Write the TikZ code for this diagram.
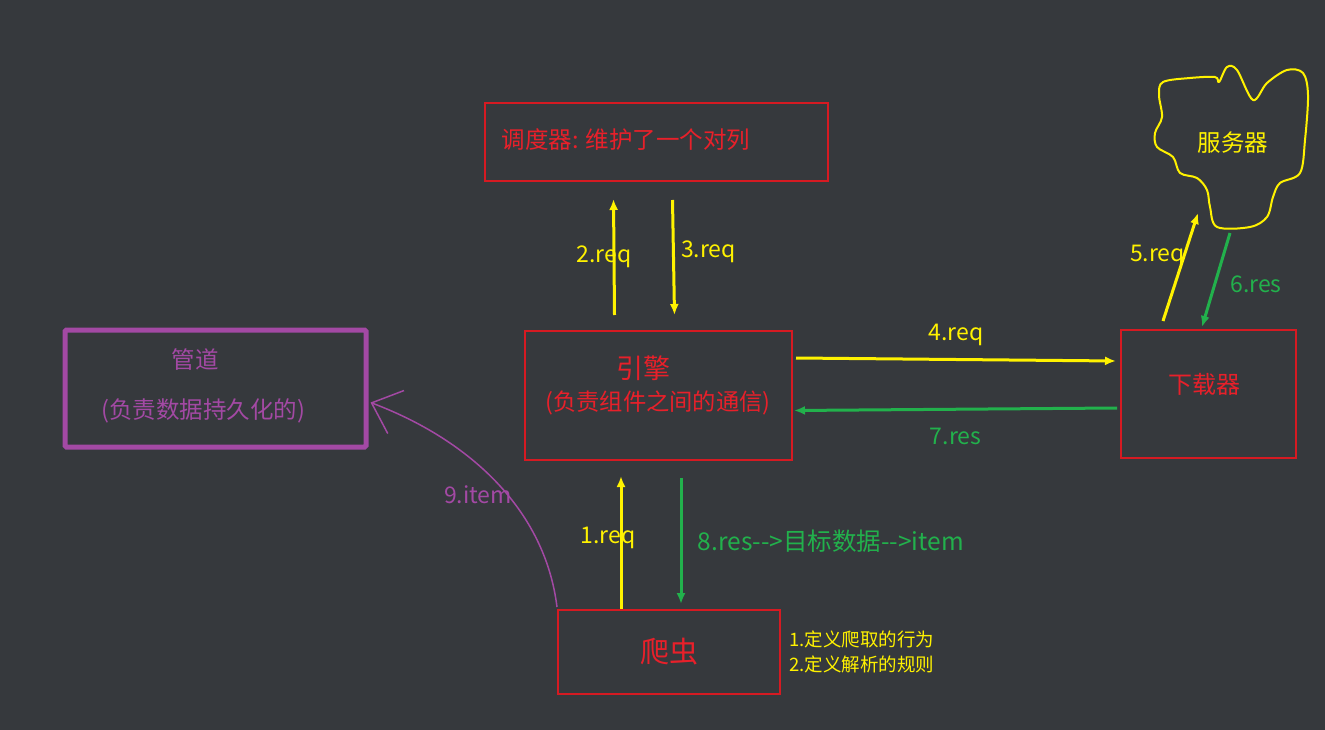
\documentclass[tikz,border=0pt]{standalone}
\usepackage{fontspec}
\newfontfamily\cjk{Noto Sans CJK SC}
\usepackage{tikz}
\usetikzlibrary{arrows.meta,
                positioning}
\definecolor{bgdark}{RGB}{54,57,61}
\definecolor{boxred}{RGB}{214,26,34}
\definecolor{txtred}{RGB}{232,32,42}
\definecolor{arryellow}{RGB}{255,242,0}
\definecolor{arrgreen}{RGB}{34,177,76}
\definecolor{pipepurple}{RGB}{163,73,164}
\tikzset{block/.style=
   {rectangle,
    draw=boxred,
    line width=2pt,
    inner sep=0pt,
    text=txtred,
    font=\cjk\fontsize{24}{28}\selectfont}}
\tikzset{yarrow/.style = {draw=arryellow, line width=3pt, -{Latex[length=11pt,width=9pt]}}}
\tikzset{garrow/.style = {draw=arrgreen, line width=3pt, -{Latex[length=11pt,width=9pt]}}}
\tikzset{ylabel/.style = {text=arryellow, font=\cjk\fontsize{23}{27}\selectfont}}
\tikzset{glabel/.style = {text=arrgreen, font=\cjk\fontsize{23}{27}\selectfont}}

\begin{document}
\begin{tikzpicture}[x=1pt, y=-1pt]

    \fill [bgdark] (0,0) rectangle (1325,730);
    \useasboundingbox (0,0) rectangle (1325,730);

    % Blocks
    \node [block, minimum width=343pt, minimum height=78pt] (sched) at (656.5,142) {};
    \node [block, minimum width=267pt, minimum height=129pt] (engine) at (658.5,395.5) {};
    \node [block, minimum width=175pt, minimum height=128pt] (down) at (1208.5,394) {};
    \node [text=txtred, font=\cjk\fontsize{24}{28}\selectfont] (downtxt) at (1204,384) {下载器};
    \node [block, minimum width=222pt, minimum height=84pt,
           font=\cjk\fontsize{29}{33}\selectfont] (spider) at (669,652) {爬虫};
    \node [block, draw=pipepurple, line width=5pt, rounded corners=1.5pt,
           minimum width=301pt, minimum height=117pt] (pipe) at (215.5,388.5) {};

    % Texts
    \node [anchor=west, text=txtred, font=\cjk\fontsize{23.5}{27}\selectfont]
        (schedtxt) at ([xshift=14pt,yshift=2pt]sched.west) {调度器: 维护了一个对列};
    \node [text=txtred, font=\cjk\fontsize{27}{31}\selectfont]
        (enginetitle) at (643,368) {引擎};
    \node [text=txtred, font=\cjk\fontsize{23.3}{27}\selectfont]
        (enginesub) at (658,403) {(负责组件之间的通信)};
    \node [text=pipepurple, font=\cjk\fontsize{23.5}{27}\selectfont]
        (pipetitle) at (195,360) {管道};
    \node [text=pipepurple, font=\cjk\fontsize{23.5}{27}\selectfont]
        (pipesub) at (203,411) {(负责数据持久化的)};
    \node [anchor=west, align=left, text=arryellow, font=\cjk\fontsize{18.5}{25}\selectfont]
        (notes) at ([xshift=5pt]spider.east) {1.定义爬取的行为\\2.定义解析的规则};

    % Server cloud
    \node [text=arryellow, font=\cjk\fontsize{23.5}{27}\selectfont] (server) at (1233,143) {服务器};
    \draw [arryellow, line width=2pt, line join=round]
        plot [smooth cycle, tension=0.55] coordinates {
        (1163,82) (1190,78) (1215,77) (1219,82) (1227,67) (1237,70) (1253,100)
        (1267,83) (1287,70) (1303,73) (1308,95) (1305,140) (1300,173)
        (1280,183) (1273,197) (1267,217) (1250,227) (1217,227) (1210,207)
        (1207,190) (1197,178) (1180,173) (1173,157) (1157,147) (1155,133)
        (1162,117) (1159,95)};

    % Draw edges

    \path [yarrow]
    ([xshift=-44pt,yshift=15pt]engine.north) -- ([xshift=-43pt,yshift=-17pt]sched.south)
        node [ylabel, midway, xshift=-10pt] {2.req};

    \path [yarrow]
    ([xshift=16pt,yshift=-18pt]sched.south) -- ([xshift=16pt,yshift=15pt]engine.north)
        node [ylabel, midway, xshift=35pt, yshift=6pt] {3.req};

    \path [yarrow]
    ([xshift=3pt,yshift=37.5pt]engine.east) -- ([xshift=-4pt,yshift=33pt]down.west)
        node [ylabel, midway, yshift=25pt] {4.req};

    \path [garrow]
    ([xshift=-3pt,yshift=-14pt]down.west) -- ([xshift=1pt,yshift=-15pt]engine.east)
        node [glabel, midway, yshift=-27pt] {7.res};

    \path [yarrow]
    ([xshift=-45.5pt,yshift=8pt]down.north) -- ([xshift=-35pt,yshift=-70pt]server.center)
        node [ylabel, midway, xshift=-23pt, yshift=11pt] {5.req};

    \path [garrow]
    ([xshift=-3pt,yshift=-90pt]server.center) -- ([xshift=-6.5pt,yshift=2pt]down.north)
        node [glabel, midway, xshift=40pt, yshift=-4pt] {6.res};

    \path [yarrow]
    ([xshift=-48pt]spider.north) -- ([xshift=-37.5pt,yshift=-15pt]engine.south)
        node [ylabel, midway, xshift=-13pt, yshift=5pt] {1.req};

    \path [garrow]
    ([xshift=22.5pt,yshift=-17pt]engine.south) -- ([xshift=12pt,yshift=5pt]spider.north)
        node [glabel, midway, anchor=west, xshift=12pt, font=\cjk\fontsize{24.5}{28}\selectfont]
        {8.res-{}->目标数据-{}->item};

    \path [draw=pipepurple, line width=1.5pt, -{Straight Barb[length=26pt,width=46pt,line width=1.5pt]}]
    ([yshift=2pt]spider.north west) .. controls (545,510) and (470,440) .. ([xshift=2pt,yshift=-14pt]pipe.east)
        node [pos=0.45, text=pipepurple, font=\cjk\fontsize{23}{27}\selectfont,
              xshift=-28pt, yshift=-2pt] {9.item};

\end{tikzpicture}
\end{document}
